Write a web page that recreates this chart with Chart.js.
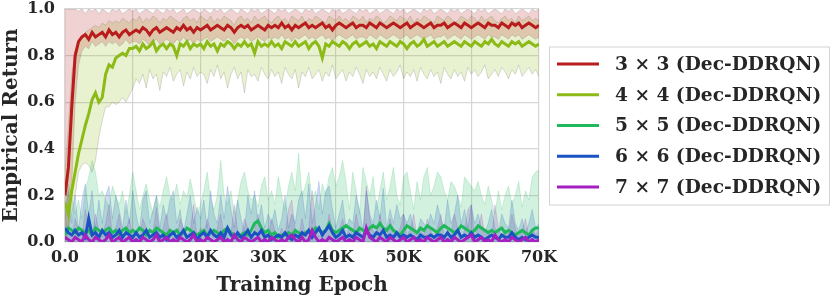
<!DOCTYPE html>
<html>
<head>
<meta charset="utf-8">
<script src="https://cdn.jsdelivr.net/npm/chart.js@4"></script>
<style>
  body { margin: 0; background: #fff; }
  #wrap { width: 831px; height: 298px; position: relative; }
</style>
</head>
<body>
<div id="wrap"><canvas id="chart"></canvas></div>
<script>
// one value every 500 epochs, 0 .. 70K
const EPOCH_STEP = 500;

const X_TICKS = ["0.0", "10K", "20K", "30K", "40K", "50K", "60K", "70K"];
const Y_TICKS = ["0.0", "0.2", "0.4", "0.6", "0.8", "1.0"];

const NAMES = ["3 \u00d7 3 (Dec-DDRQN)", "4 \u00d7 4 (Dec-DDRQN)", "5 \u00d7 5 (Dec-DDRQN)", "6 \u00d7 6 (Dec-DDRQN)", "7 \u00d7 7 (Dec-DDRQN)"];
const COLORS = ["#b81c1c", "#8cba16", "#1fb85a", "#1a52c4", "#a61fc0"];

// 3x3 mean + band
const mean3 = [
  0.20,0.32,0.58,0.80,0.86,0.88,0.89,0.87,0.90,0.88,0.89,0.90,0.88,0.91,0.89,0.90,0.88,0.90,0.91,0.89,0.90,
  0.91,0.90,0.92,0.91,0.89,0.91,0.92,0.90,0.91,0.92,0.91,0.90,0.92,0.91,0.93,0.91,0.92,0.90,0.92,0.91,
  0.92,0.93,0.91,0.92,0.93,0.92,0.91,0.93,0.92,0.90,0.92,0.93,0.92,0.93,0.91,0.92,0.93,0.92,0.91,0.93,
  0.92,0.93,0.92,0.94,0.92,0.93,0.91,0.93,0.92,0.93,0.94,0.92,0.93,0.92,0.93,0.94,0.92,0.93,0.91,0.93,
  0.94,0.93,0.92,0.93,0.94,0.92,0.93,0.93,0.92,0.94,0.93,0.92,0.94,0.93,0.92,0.93,0.94,0.93,0.92,0.93,
  0.94,0.92,0.93,0.94,0.93,0.92,0.93,0.94,0.92,0.93,0.93,0.94,0.92,0.93,0.94,0.93,0.92,0.94,0.93,0.92,
  0.93,0.94,0.93,0.92,0.94,0.93,0.93,0.92,0.94,0.93,0.92,0.94,0.93,0.94,0.92,0.93,0.94,0.93,0.92,0.93
];
const low3 = [
  0.00,0.05,0.25,0.60,0.76,0.82,0.84,0.83,0.86,0.84,0.85,0.86,0.84,0.86,0.85,0.86,0.84,0.85,0.87,0.85,0.86,
  0.86,0.85,0.87,0.86,0.84,0.86,0.87,0.85,0.86,0.87,0.86,0.85,0.87,0.86,0.88,0.86,0.87,0.85,0.87,0.86,
  0.87,0.88,0.86,0.87,0.88,0.87,0.86,0.88,0.87,0.85,0.87,0.88,0.87,0.88,0.86,0.87,0.88,0.87,0.86,0.88,
  0.87,0.88,0.87,0.89,0.87,0.88,0.86,0.88,0.87,0.88,0.89,0.87,0.88,0.87,0.88,0.89,0.87,0.88,0.86,0.88,
  0.89,0.88,0.87,0.88,0.89,0.87,0.88,0.88,0.87,0.89,0.88,0.87,0.89,0.88,0.87,0.88,0.89,0.88,0.87,0.88,
  0.89,0.87,0.88,0.89,0.88,0.87,0.88,0.89,0.87,0.88,0.88,0.89,0.87,0.88,0.89,0.88,0.87,0.89,0.88,0.87,
  0.88,0.89,0.88,0.87,0.89,0.88,0.88,0.87,0.89,0.88,0.87,0.89,0.88,0.89,0.87,0.88,0.89,0.88,0.87,0.88
];
const high3 = [
  1.00,1.00,1.00,1.00,0.99,1.00,0.98,1.00,0.99,1.00,0.98,1.00,0.99,0.98,1.00,0.99,1.00,0.98,0.99,1.00,0.99,
  1.00,0.98,0.99,1.00,0.99,0.98,1.00,0.99,0.98,1.00,0.99,1.00,0.98,0.99,1.00,0.98,0.99,1.00,0.99,0.98,
  1.00,0.99,0.98,1.00,0.99,1.00,0.98,0.99,1.00,0.99,0.98,1.00,0.99,0.98,1.00,0.99,1.00,0.98,0.99,1.00,
  0.99,0.98,1.00,0.99,1.00,0.98,0.99,1.00,0.99,0.98,1.00,0.99,1.00,0.98,0.99,1.00,0.99,0.98,1.00,0.99,
  1.00,0.98,0.99,1.00,0.99,0.98,1.00,0.99,1.00,0.98,0.99,1.00,0.98,0.99,1.00,0.99,0.98,1.00,0.99,1.00,
  0.98,0.99,1.00,0.99,0.98,1.00,0.99,1.00,0.98,0.99,1.00,0.99,0.98,1.00,0.99,1.00,0.98,0.99,1.00,0.99,
  0.98,1.00,0.99,1.00,0.98,0.99,1.00,0.99,0.98,1.00,0.99,1.00,0.98,0.99,1.00,0.99,0.98,1.00,0.99,1.00
];

// 4x4 mean + band
const mean4 = [
  0.17,0.12,0.22,0.30,0.38,0.44,0.50,0.55,0.61,0.64,0.60,0.62,0.72,0.76,0.75,0.79,0.80,0.81,0.80,0.83,0.83,
  0.84,0.82,0.85,0.83,0.84,0.86,0.82,0.84,0.85,0.83,0.85,0.84,0.80,0.85,0.84,0.86,0.83,0.85,0.84,0.85,
  0.83,0.86,0.84,0.85,0.82,0.85,0.84,0.86,0.85,0.83,0.85,0.84,0.86,0.84,0.85,0.81,0.86,0.84,0.85,0.84,
  0.86,0.84,0.85,0.83,0.86,0.85,0.84,0.86,0.84,0.85,0.86,0.83,0.85,0.86,0.84,0.79,0.85,0.84,0.86,0.85,
  0.84,0.86,0.85,0.83,0.85,0.86,0.84,0.85,0.86,0.84,0.85,0.83,0.86,0.85,0.84,0.86,0.85,0.84,0.86,0.85,
  0.83,0.85,0.86,0.84,0.85,0.87,0.84,0.85,0.86,0.84,0.85,0.86,0.84,0.85,0.86,0.85,0.84,0.86,0.85,0.84,
  0.86,0.85,0.84,0.86,0.85,0.87,0.85,0.84,0.86,0.85,0.84,0.86,0.85,0.86,0.84,0.85,0.86,0.85,0.84,0.85
];
const low4 = [
  0.08,0.06,0.12,0.20,0.30,0.33,0.34,0.33,0.30,0.35,0.45,0.52,0.58,0.58,0.60,0.59,0.60,0.62,0.60,0.63,0.66,
  0.70,0.68,0.72,0.66,0.74,0.70,0.72,0.65,0.73,0.71,0.75,0.69,0.72,0.74,0.67,0.73,0.70,0.75,0.71,0.73,
  0.72,0.68,0.74,0.71,0.76,0.70,0.73,0.66,0.72,0.75,0.70,0.73,0.64,0.74,0.71,0.72,0.69,0.75,0.72,0.70,
  0.74,0.71,0.73,0.68,0.75,0.72,0.70,0.74,0.66,0.73,0.71,0.75,0.70,0.72,0.74,0.69,0.73,0.71,0.76,0.70,
  0.72,0.74,0.69,0.73,0.71,0.75,0.72,0.68,0.74,0.71,0.73,0.70,0.75,0.72,0.69,0.74,0.71,0.73,0.76,0.70,
  0.73,0.71,0.74,0.69,0.75,0.72,0.70,0.74,0.71,0.73,0.68,0.75,0.72,0.70,0.74,0.71,0.73,0.69,0.75,0.72,
  0.74,0.71,0.73,0.76,0.70,0.72,0.74,0.71,0.75,0.73,0.70,0.74,0.72,0.76,0.71,0.73,0.75,0.72,0.74,0.71
];
const high4 = [
  0.30,0.50,0.72,0.82,0.86,0.88,0.90,0.91,0.92,0.93,0.92,0.94,0.93,0.95,0.94,0.95,0.94,0.96,0.95,0.94,0.96,
  0.95,0.97,0.94,0.96,0.95,0.97,0.96,0.94,0.96,0.95,0.97,0.96,0.95,0.94,0.96,0.97,0.95,0.96,0.94,0.97,
  0.96,0.95,0.97,0.94,0.96,0.95,0.97,0.96,0.95,0.93,0.96,0.97,0.95,0.96,0.94,0.97,0.95,0.96,0.97,0.95,
  0.94,0.96,0.97,0.95,0.96,0.94,0.97,0.96,0.95,0.97,0.94,0.96,0.95,0.97,0.96,0.95,0.94,0.97,0.96,0.95,
  0.97,0.95,0.96,0.94,0.97,0.96,0.95,0.97,0.94,0.96,0.95,0.97,0.96,0.94,0.95,0.97,0.96,0.95,0.97,0.96,
  0.95,0.97,0.94,0.96,0.95,0.97,0.96,0.95,0.94,0.97,0.96,0.95,0.97,0.96,0.94,0.95,0.97,0.96,0.95,0.97,
  0.96,0.94,0.97,0.95,0.96,0.97,0.95,0.94,0.96,0.97,0.95,0.96,0.94,0.97,0.95,0.96,0.97,0.95,0.96,0.95
];

// 5x5, 6x6, 7x7 means and upper band edges (lower edges sit at 0)
const mean5 = [
  0.03,0.06,0.05,0.04,0.06,0.05,0.04,0.05,0.03,0.06,0.05,0.04,0.05,0.06,0.04,0.05,0.03,0.05,0.06,0.04,0.05,
  0.04,0.06,0.05,0.03,0.05,0.04,0.06,0.05,0.04,0.03,0.05,0.04,0.05,0.03,0.04,0.06,0.05,0.04,0.03,0.04,
  0.05,0.03,0.04,0.05,0.04,0.03,0.05,0.06,0.04,0.03,0.02,0.03,0.04,0.03,0.05,0.08,0.09,0.06,0.04,0.05,
  0.03,0.04,0.02,0.03,0.03,0.04,0.03,0.05,0.04,0.03,0.04,0.05,0.04,0.06,0.05,0.04,0.05,0.08,0.05,0.04,
  0.05,0.06,0.07,0.06,0.05,0.04,0.06,0.05,0.04,0.06,0.07,0.06,0.08,0.06,0.05,0.07,0.05,0.04,0.03,0.05,
  0.07,0.06,0.05,0.04,0.06,0.05,0.07,0.06,0.05,0.04,0.06,0.07,0.06,0.05,0.04,0.05,0.07,0.06,0.05,0.04,
  0.05,0.07,0.06,0.05,0.04,0.05,0.04,0.05,0.06,0.04,0.05,0.04,0.03,0.04,0.05,0.04,0.03,0.05,0.06,0.06
];
const high5 = [
  0.15,0.25,0.20,0.12,0.18,0.10,0.22,0.28,0.35,0.30,0.20,0.22,0.18,0.15,0.24,0.20,0.16,0.22,0.12,0.20,0.30,
  0.22,0.14,0.20,0.25,0.18,0.12,0.20,0.15,0.22,0.28,0.20,0.18,0.25,0.16,0.22,0.19,0.27,0.20,0.12,0.16,
  0.22,0.30,0.18,0.14,0.20,0.35,0.20,0.16,0.22,0.12,0.18,0.26,0.30,0.22,0.18,0.20,0.15,0.24,0.28,0.18,
  0.22,0.16,0.28,0.20,0.14,0.24,0.30,0.22,0.38,0.20,0.24,0.30,0.18,0.22,0.14,0.25,0.20,0.28,0.32,0.24,
  0.28,0.35,0.26,0.14,0.30,0.22,0.12,0.32,0.26,0.20,0.28,0.14,0.22,0.30,0.18,0.24,0.32,0.20,0.16,0.28,
  0.30,0.22,0.14,0.26,0.18,0.28,0.32,0.20,0.24,0.30,0.28,0.22,0.18,0.26,0.24,0.20,0.15,0.28,0.26,0.24,
  0.22,0.26,0.20,0.16,0.24,0.18,0.12,0.22,0.14,0.20,0.24,0.16,0.20,0.26,0.15,0.22,0.18,0.28,0.30,0.31
];
const mean6 = [
  0.06,0.04,0.03,0.05,0.03,0.04,0.02,0.10,0.03,0.04,0.02,0.05,0.03,0.04,0.02,0.03,0.05,0.02,0.04,0.03,0.02,
  0.04,0.02,0.03,0.05,0.02,0.03,0.04,0.02,0.03,0.01,0.03,0.04,0.02,0.03,0.05,0.02,0.03,0.04,0.01,0.03,
  0.04,0.02,0.05,0.03,0.02,0.04,0.02,0.06,0.03,0.02,0.04,0.02,0.03,0.05,0.02,0.04,0.03,0.05,0.02,0.03,
  0.01,0.02,0.03,0.02,0.04,0.02,0.01,0.03,0.02,0.04,0.03,0.05,0.02,0.04,0.06,0.03,0.05,0.07,0.04,0.02,
  0.03,0.05,0.02,0.03,0.02,0.04,0.03,0.02,0.05,0.03,0.02,0.04,0.03,0.05,0.02,0.03,0.02,0.04,0.02,0.03,
  0.02,0.03,0.02,0.01,0.03,0.02,0.02,0.03,0.02,0.03,0.03,0.02,0.04,0.02,0.03,0.05,0.02,0.03,0.02,0.04,
  0.02,0.03,0.02,0.01,0.02,0.03,0.02,0.01,0.03,0.02,0.02,0.04,0.02,0.01,0.02,0.01,0.02,0.03,0.02,0.02
];
const high6 = [
  0.10,0.22,0.08,0.20,0.05,0.18,0.25,0.12,0.22,0.06,0.18,0.08,0.20,0.24,0.10,0.20,0.14,0.06,0.18,0.08,0.22,
  0.12,0.05,0.18,0.22,0.08,0.14,0.20,0.06,0.16,0.10,0.18,0.22,0.08,0.14,0.04,0.12,0.20,0.08,0.15,0.10,
  0.18,0.06,0.22,0.12,0.08,0.20,0.10,0.24,0.14,0.06,0.18,0.10,0.05,0.20,0.12,0.22,0.08,0.16,0.06,0.12,
  0.08,0.14,0.05,0.10,0.20,0.06,0.12,0.08,0.18,0.22,0.10,0.25,0.08,0.16,0.26,0.12,0.22,0.24,0.14,0.06,
  0.12,0.18,0.06,0.10,0.08,0.20,0.14,0.05,0.22,0.12,0.08,0.18,0.10,0.23,0.06,0.14,0.08,0.16,0.10,0.12,
  0.08,0.12,0.06,0.04,0.10,0.08,0.06,0.12,0.08,0.16,0.10,0.06,0.18,0.08,0.12,0.20,0.08,0.14,0.06,0.16,
  0.08,0.12,0.06,0.04,0.08,0.14,0.06,0.04,0.12,0.08,0.06,0.18,0.08,0.05,0.10,0.04,0.08,0.14,0.06,0.08
];
const mean7 = [
  0.02,0.01,0.00,0.02,0.01,0.00,0.03,0.01,0.00,0.02,0.01,0.00,0.01,0.03,0.00,0.01,0.02,0.00,0.01,0.02,0.00,
  0.01,0.00,0.02,0.01,0.00,0.01,0.03,0.00,0.01,0.02,0.00,0.01,0.00,0.02,0.01,0.00,0.01,0.03,0.00,0.01,
  0.00,0.02,0.01,0.00,0.01,0.02,0.00,0.01,0.00,0.03,0.01,0.00,0.02,0.01,0.00,0.01,0.02,0.00,0.01,0.00,
  0.02,0.01,0.00,0.01,0.00,0.02,0.03,0.01,0.00,0.02,0.00,0.01,0.05,0.02,0.00,0.01,0.00,0.02,0.01,0.00,
  0.01,0.02,0.00,0.01,0.00,0.02,0.01,0.00,0.06,0.02,0.01,0.00,0.02,0.01,0.00,0.02,0.01,0.00,0.01,0.02,
  0.00,0.01,0.02,0.00,0.01,0.00,0.02,0.01,0.00,0.01,0.02,0.00,0.01,0.00,0.02,0.01,0.00,0.01,0.02,0.03,
  0.00,0.01,0.02,0.00,0.01,0.00,0.03,0.01,0.00,0.01,0.00,0.02,0.01,0.00,0.01,0.02,0.00,0.01,0.00,0.01
];
const high7 = [
  0.06,0.04,0.02,0.10,0.05,0.02,0.14,0.06,0.03,0.12,0.05,0.02,0.08,0.16,0.03,0.06,0.12,0.02,0.05,0.10,0.02,
  0.05,0.02,0.10,0.06,0.02,0.04,0.15,0.02,0.06,0.12,0.02,0.05,0.02,0.10,0.06,0.02,0.05,0.16,0.02,0.06,
  0.03,0.10,0.05,0.02,0.06,0.12,0.02,0.05,0.03,0.16,0.05,0.02,0.10,0.06,0.02,0.05,0.12,0.03,0.05,0.02,
  0.10,0.05,0.02,0.06,0.03,0.14,0.18,0.05,0.02,0.10,0.03,0.06,0.22,0.08,0.02,0.05,0.02,0.12,0.05,0.02,
  0.05,0.10,0.02,0.06,0.03,0.12,0.05,0.02,0.24,0.10,0.05,0.02,0.12,0.05,0.02,0.10,0.05,0.02,0.06,0.12,
  0.02,0.06,0.12,0.02,0.05,0.03,0.10,0.05,0.02,0.06,0.12,0.02,0.05,0.03,0.12,0.06,0.02,0.05,0.14,0.16,
  0.02,0.06,0.12,0.03,0.05,0.02,0.16,0.06,0.02,0.05,0.03,0.12,0.06,0.02,0.05,0.10,0.02,0.06,0.03,0.05
];

const FONT = "'DejaVu Serif', serif";
const INK = "#262626";

function pts(arr) {
  return arr.map((v, i) => ({ x: i * EPOCH_STEP, y: v }));
}

function alpha(hex, a) {
  const n = parseInt(hex.slice(1), 16);
  return `rgba(${(n >> 16) & 255},${(n >> 8) & 255},${n & 255},${a})`;
}

function meanSet(i, data) {
  return {
    label: NAMES[i], data: pts(data), borderColor: COLORS[i], backgroundColor: COLORS[i],
    borderWidth: 3, pointRadius: 0, fill: false, tension: 0, order: 5 - i
  };
}

// band as two datasets: lower edge (no fill) then upper edge filled down to it
function bandSets(i, lo, hi, edge) {
  const sets = [];
  if (lo) {
    sets.push({ data: pts(lo), borderColor: edge, borderWidth: 0.7, pointRadius: 0, fill: false, order: 20 });
  }
  sets.push({
    data: pts(hi), borderColor: edge, borderWidth: 0.7, pointRadius: 0, order: 20,
    fill: lo ? "-1" : "origin", backgroundColor: alpha(COLORS[i], 0.2)
  });
  return sets;
}

const datasets = [
  meanSet(0, mean3), meanSet(1, mean4), meanSet(2, mean5), meanSet(3, mean6), meanSet(4, mean7),
  ...bandSets(0, low3, high3, "rgba(90,90,90,0.3)"),
  ...bandSets(1, low4, high4, "rgba(90,90,90,0.3)"),
  ...bandSets(2, null, high5, alpha(COLORS[2], 0.25)),
  ...bandSets(3, null, high6, alpha(COLORS[3], 0.25)),
  ...bandSets(4, null, high7, alpha(COLORS[4], 0.25))
];

// legend drawn by hand in the space kept free on the right
const sideLegend = {
  id: "sideLegend",
  afterDraw(chart) {
    const ctx = chart.ctx;
    const area = chart.chartArea;
    const left = area.right + 10;
    const right = chart.width - 1;
    const mid = (area.top + area.bottom) / 2;
    const step = 30.7;
    const top = mid - 79;
    ctx.save();
    ctx.strokeStyle = "#d4d4d4";
    ctx.lineWidth = 1;
    ctx.strokeRect(left + 0.5, top + 0.5, right - left - 1, 158);
    ctx.font = "bold 18.6px " + FONT;
    ctx.textBaseline = "middle";
    ctx.fillStyle = INK;
    NAMES.forEach((name, i) => {
      const y = mid + (i - 2) * step;
      ctx.strokeStyle = COLORS[i];
      ctx.lineWidth = 3;
      ctx.beginPath();
      ctx.moveTo(left + 8, y);
      ctx.lineTo(left + 50, y);
      ctx.stroke();
      ctx.fillText(name, left + 66, y + 1);
    });
    ctx.restore();
  }
};

new Chart(document.getElementById("chart"), {
  type: "line",
  data: { datasets },
  options: {
    responsive: true,
    maintainAspectRatio: false,
    animation: false,
    layout: { padding: { top: 9, right: 292, left: 0, bottom: 0 } },
    plugins: {
      filler: { drawTime: "beforeDatasetsDraw" },
      tooltip: { enabled: false },
      legend: { display: false }
    },
    scales: {
      x: {
        type: "linear", min: 0, max: 70000,
        afterFit(scale) { scale.height = 56; },
        grid: { color: "#d6d6d6", lineWidth: 1.2, drawTicks: false },
        border: { color: "#d6d6d6", width: 1.2 },
        ticks: {
          stepSize: 10000, padding: 6, color: INK, maxRotation: 0,
          font: { family: FONT, size: 16, weight: "bold" },
          callback: v => X_TICKS[Math.round(v / 10000)]
        },
        title: {
          display: true, text: "Training Epoch", color: INK, padding: { top: 1, bottom: 0 },
          font: { family: FONT, size: 20, weight: "bold" }
        }
      },
      y: {
        min: 0, max: 1,
        afterFit(scale) { scale.width = 65; scale.paddingTop = 0; scale.paddingBottom = 0; },
        grid: { color: "#d6d6d6", lineWidth: 1.2, drawTicks: false },
        border: { color: "#d6d6d6", width: 1.2 },
        ticks: {
          stepSize: 0.2, padding: 10, color: INK,
          font: { family: FONT, size: 16, weight: "bold" },
          callback: v => Y_TICKS[Math.round(v / 0.2)]
        },
        title: {
          display: true, text: "Empirical Return", color: INK, padding: { top: 0, bottom: 2 },
          font: { family: FONT, size: 20, weight: "bold" }
        }
      }
    }
  },
  plugins: [sideLegend]
});
</script>
</body>
</html>
